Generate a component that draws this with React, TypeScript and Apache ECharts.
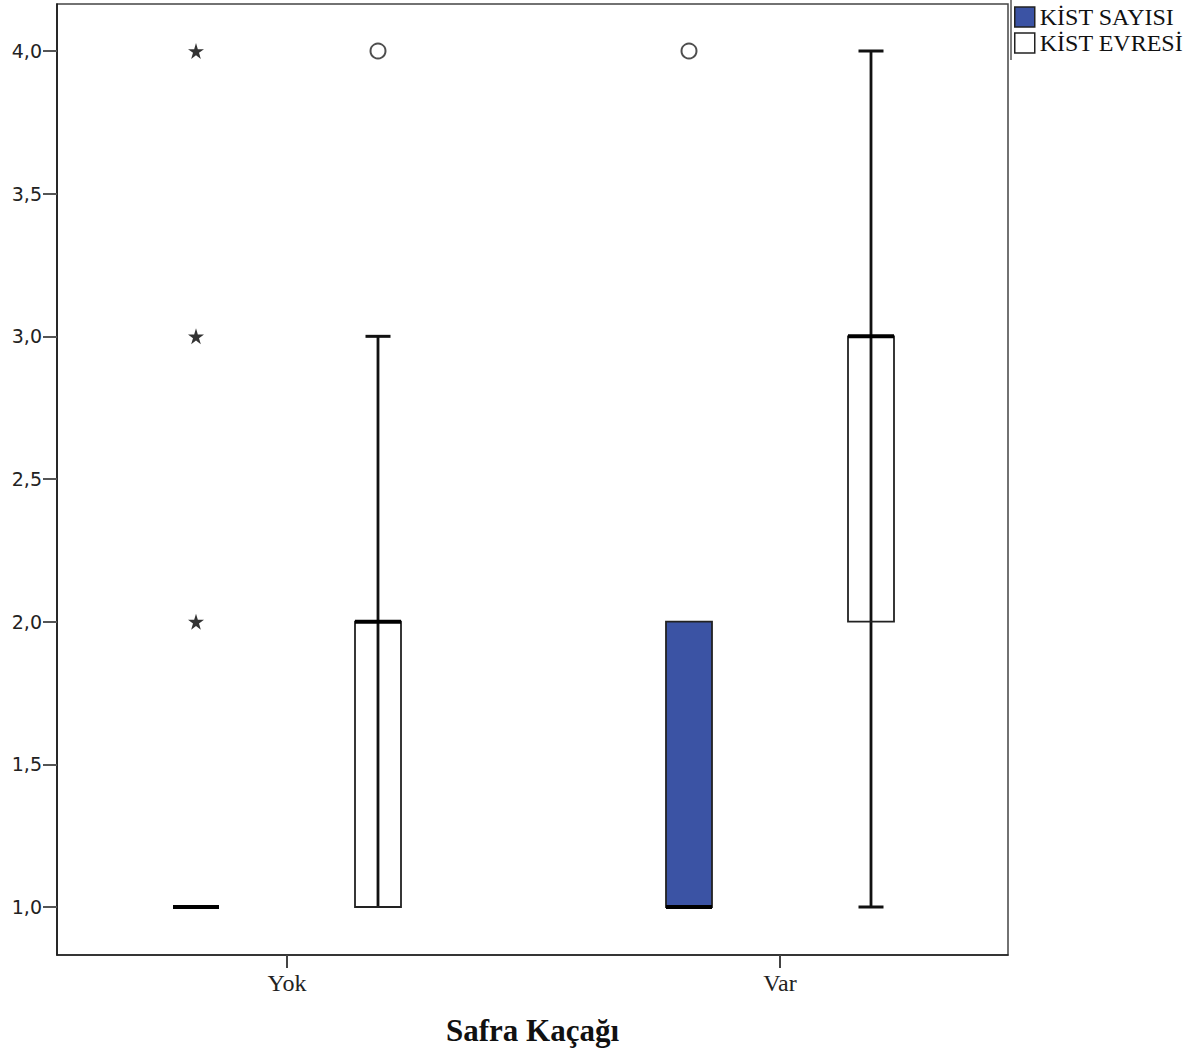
import React, { useEffect, useRef } from "react";
import * as echarts from "echarts";

const categories = ["Yok", "Var"];
const seriesNames = ["KİST SAYISI", "KİST EVRESİ"];
// [low whisker, Q1, median, Q3, high whisker] per category
const sayisiBox = [
  [1, 1, 1, 1, 1],
  [1, 1, 1, 2, 2],
];
const evresiBox = [
  [1, 1, 2, 2, 3],
  [1, 2, 3, 3, 4],
];
// [category index, value]
const sayisiExtremes = [
  [0, 2],
  [0, 3],
  [0, 4],
];
const sayisiOutliers = [[1, 4]];
const evresiOutliers = [[0, 4]];
const yTicks = [1, 1.5, 2, 2.5, 3, 3.5, 4];

const BLUE = "#3b53a4";
const STAR =
  "path://M50,0 L61,36 L98,36 L68,58 L79,94 L50,72 L21,94 L32,58 L2,36 L39,36 Z";

function makeRender(offset: number, fill: string) {
  return (params: any, api: any) => {
    const cat = api.value(0);
    const low = api.value(1);
    const q1 = api.value(2);
    const med = api.value(3);
    const q3 = api.value(4);
    const high = api.value(5);
    const x = api.coord([cat, low])[0] + offset;
    const yl = api.coord([cat, low])[1];
    const y1 = api.coord([cat, q1])[1];
    const ym = api.coord([cat, med])[1];
    const y3 = api.coord([cat, q3])[1];
    const yh = api.coord([cat, high])[1];
    const half = 23;
    const cap = 12.5;
    const children: any[] = [];
    if (yl !== yh) {
      children.push({
        type: "line",
        shape: { x1: x, y1: yl, x2: x, y2: yh },
        style: { stroke: "#111", lineWidth: 2.8 },
      });
    }
    children.push({
      type: "rect",
      shape: { x: x - half, y: y3, width: 2 * half, height: y1 - y3 },
      style: { fill, stroke: "#222", lineWidth: 1.8 },
    });
    if (high > q3) {
      children.push({
        type: "line",
        shape: { x1: x - cap, y1: yh, x2: x + cap, y2: yh },
        style: { stroke: "#111", lineWidth: 3 },
      });
    }
    if (low < q1) {
      children.push({
        type: "line",
        shape: { x1: x - cap, y1: yl, x2: x + cap, y2: yl },
        style: { stroke: "#111", lineWidth: 3 },
      });
    }
    children.push({
      type: "line",
      shape: { x1: x - half, y1: ym, x2: x + half, y2: ym },
      style: { stroke: "#000", lineWidth: 4 },
    });
    return { type: "group", children };
  };
}

export default function App() {
  const ref = useRef<HTMLDivElement>(null);
  useEffect(() => {
    if (!ref.current) return;
    const chart = echarts.init(ref.current, null, { renderer: "svg" });
    const pxPerUnitY = 856 / 3;
    chart.setOption({
      animation: false,
      backgroundColor: "#fff",
      grid: {
        left: 57,
        right: 193,
        top: 4,
        bottom: 98,
        show: true,
        borderColor: "#444",
        borderWidth: 1.5,
        outerBoundsMode: "none",
        containLabel: false,
      },
      legend: {
        orient: "vertical",
        left: 1014,
        top: 5,
        padding: 0,
        itemGap: 2,
        itemWidth: 20,
        itemHeight: 20,
        icon: "rect",
        textStyle: { fontFamily: "Liberation Serif", fontSize: 24, color: "#111", lineHeight: 24 },
        data: [
          {
            name: seriesNames[0],
            itemStyle: { color: BLUE, borderColor: "#222", borderWidth: 1.5 },
          },
          {
            name: seriesNames[1],
            itemStyle: { color: "#fff", borderColor: "#222", borderWidth: 1.5 },
          },
        ],
      },
      xAxis: {
        type: "value",
        min: -230 / 493,
        max: 1 + 228 / 493,
        splitLine: { show: false },
        axisLine: { show: true, onZero: false, lineStyle: { color: "#222", width: 1.5 } },
        axisTick: {
          show: true,
          customValues: [0, 1],
          length: 13,
          lineStyle: { color: "#444", width: 2 },
        },
        axisLabel: {
          customValues: [0, 1],
          formatter: (v: number) => categories[Math.round(v)],
          fontFamily: "Liberation Serif",
          fontSize: 24,
          color: "#222",
          margin: 16,
        },
        name: "Safra Kaçağı",
        nameLocation: "middle",
        nameGap: 60,
        nameTextStyle: {
          fontFamily: "Liberation Serif",
          fontWeight: "bold",
          fontSize: 31,
          color: "#111",
        },
      },
      yAxis: {
        type: "value",
        min: 1 - 48 / pxPerUnitY,
        max: 4 + 47 / pxPerUnitY,
        splitLine: { show: false },
        axisLine: { show: true, onZero: false, lineStyle: { color: "#111", width: 1.5 } },
        axisTick: {
          show: true,
          customValues: yTicks,
          length: 14,
          lineStyle: { color: "#555", width: 2 },
        },
        axisLabel: {
          customValues: yTicks,
          formatter: (v: number) => v.toFixed(1).replace(".", ","),
          fontFamily: "DejaVu Sans",
          fontSize: 19,
          color: "#222",
          margin: 15,
        },
      },
      graphic: [
        {
          type: "line",
          shape: { x1: 1011, y1: 0, x2: 1011, y2: 60 },
          style: { stroke: "#555", lineWidth: 1.5 },
        },
      ],
      series: [
        {
          name: seriesNames[0],
          type: "custom",
          itemStyle: { color: BLUE },
          renderItem: makeRender(-91, BLUE),
          data: sayisiBox.map((b, i) => [i, ...b]),
          z: 2,
        },
        {
          name: seriesNames[1],
          type: "custom",
          itemStyle: { color: "#fff" },
          renderItem: makeRender(91, "rgba(255,255,255,0)"),
          data: evresiBox.map((b, i) => [i, ...b]),
          z: 2,
        },
        {
          name: "sayisi-extreme",
          type: "scatter",
          symbol: STAR,
          symbolSize: 16,
          symbolOffset: [-91, 0],
          itemStyle: { color: "#000" },
          data: sayisiExtremes,
          z: 3,
        },
        {
          name: "sayisi-outlier",
          type: "scatter",
          symbol: "emptyCircle",
          symbolSize: 15,
          symbolOffset: [-91, 0],
          itemStyle: { color: "#222", borderWidth: 3 },
          data: sayisiOutliers,
          z: 3,
        },
        {
          name: "evresi-outlier",
          type: "scatter",
          symbol: "emptyCircle",
          symbolSize: 15,
          symbolOffset: [91, 0],
          itemStyle: { color: "#222", borderWidth: 3 },
          data: evresiOutliers,
          z: 3,
        },
      ],
    });
    return () => chart.dispose();
  }, []);
  return (
    <div
      ref={ref}
      style={{ position: "absolute", left: 0, top: 0, width: 1201, height: 1053, background: "#fff" }}
    />
  );
}
